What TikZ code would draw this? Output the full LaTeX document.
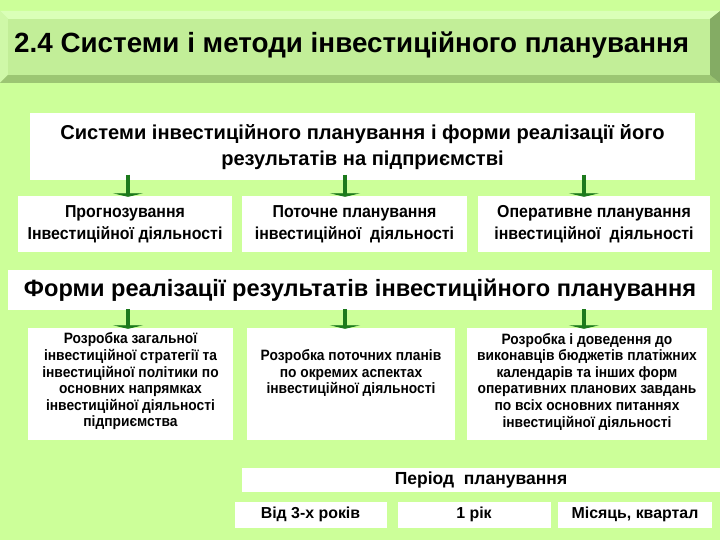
\documentclass[tikz,border=0pt]{standalone}
\usepackage{fontspec}
\setmainfont{Liberation Sans}
\newfontfamily\narrowfont[FakeStretch=0.92]{Liberation Sans}
\usetikzlibrary{arrows.meta}
\definecolor{bg}{HTML}{CCFF99}
\definecolor{face}{HTML}{C2EE98}
\definecolor{bevlight}{HTML}{DAFFB8}
\definecolor{bevleft}{HTML}{CFF8A8}
\definecolor{bevbottom}{HTML}{9CC673}
\definecolor{bevright}{HTML}{84AC64}
\definecolor{arrgreen}{HTML}{1C7A1C}
\tikzset{
  wbox/.style={fill=white, draw=none, inner sep=0pt, align=center, font=\bfseries},
  arr/.style={draw=arrgreen, line width=4pt, -{Triangle[width=30pt,length=3.5pt]}, shorten >=-1pt},
  rowtxt/.style={font=\narrowfont\fontsize{17.3}{22}\selectfont\bfseries},
  lowtxt/.style={align=center, inner sep=0pt, font=\narrowfont\fontsize{15}{16.6}\selectfont\bfseries},
  pertxt/.style={font=\fontsize{15.9}{18}\selectfont\bfseries},
}
\begin{document}
\begin{tikzpicture}[x=1pt,y=-1pt]
\fill[bg] (0,0) rectangle (720,540);
\useasboundingbox (0,0) rectangle (720,540);
% title bevel
\fill[bevlight] (0,11) -- (720,11) -- (710,19) -- (8,19) -- cycle;
\fill[bevleft] (0,11) -- (8,19) -- (8,75) -- (0,83) -- cycle;
\fill[bevbottom] (0,83) -- (8,75) -- (710,75) -- (720,83) -- cycle;
\fill[bevright] (720,11) -- (710,19) -- (710,75) -- (720,83) -- cycle;
\fill[face] (8,19) rectangle (710,75);
\node[anchor=west, inner sep=0pt, font=\fontsize{27.8}{32}\selectfont\bfseries] (title) at (14,45) {2.4 Системи і методи інвестиційного планування};
% systems box
\node[wbox, minimum width=665, minimum height=67, font=\fontsize{20.1}{26}\selectfont\bfseries] (sys) at (362.5,147) {Системи інвестиційного планування і форми реалізації його\\результатів на підприємстві};
% row 1
\node[wbox, minimum width=214, minimum height=56, rowtxt] (p1) at (125,224) {Прогнозування\\Інвестиційної діяльності};
\node[wbox, minimum width=225, minimum height=56, rowtxt] (p2) at (354.5,224) {Поточне планування\\інвестиційної~ діяльності};
\node[wbox, minimum width=232, minimum height=56, rowtxt] (p3) at (594,224) {Оперативне планування\\інвестиційної~ діяльності};
\coordinate (a1) at (128,0);
\coordinate (a2) at (345,0);
\coordinate (a3) at (584,0);
\draw[arr] ([yshift=6pt]sys.south -| a1) -- (p1.north -| a1);
\draw[arr] ([yshift=6pt]sys.south -| a2) -- (p2.north -| a2);
\draw[arr] ([yshift=6pt]sys.south -| a3) -- (p3.north -| a3);
% forms bar
\node[wbox, minimum width=704, minimum height=40, font=\fontsize{23.6}{26}\selectfont\bfseries] (forms) at (360,290) {Форми реалізації результатів інвестиційного планування};
% row 2
\node[wbox, minimum width=205, minimum height=112] (f1) at (130.5,384) {};
\node[wbox, minimum width=208, minimum height=112] (f2) at (351,384) {};
\node[wbox, minimum width=240, minimum height=112] (f3) at (587,384) {};
\node[lowtxt] (t1) at (130.5,381.5) {Розробка загальної\\інвестиційної стратегії та\\інвестиційної політики по\\основних напрямках\\інвестиційної діяльності\\підприємства};
\node[lowtxt] (t2) at (351,373) {Розробка поточних планів\\по окремих аспектах\\інвестиційної діяльності};
\node[lowtxt] (t3) at (587,381.5) {Розробка і доведення до\\виконавців бюджетів платіжних\\календарів та інших форм\\оперативних планових завдань\\по всіх основних питаннях\\інвестиційної діяльності};
\draw[arr] ([yshift=1pt]forms.south -| a1) -- (f1.north -| a1);
\draw[arr] ([yshift=1pt]forms.south -| a2) -- (f2.north -| a2);
\draw[arr] ([yshift=1pt]forms.south -| a3) -- (f3.north -| a3);
% period
\node[wbox, minimum width=478, minimum height=24, font=\fontsize{17.5}{18}\selectfont\bfseries] (per) at (481,480) {Період~ планування};
\node[wbox, minimum width=152, minimum height=26, pertxt] (y3) at (310.5,514.5) {Від 3-х років};
\node[wbox, minimum width=153, minimum height=26, pertxt] (y1) at (474,514.5) {1 рік};
\node[wbox, minimum width=154, minimum height=26, pertxt] (ym) at (635,514.5) {Місяць, квартал};
\end{tikzpicture}
\end{document}
